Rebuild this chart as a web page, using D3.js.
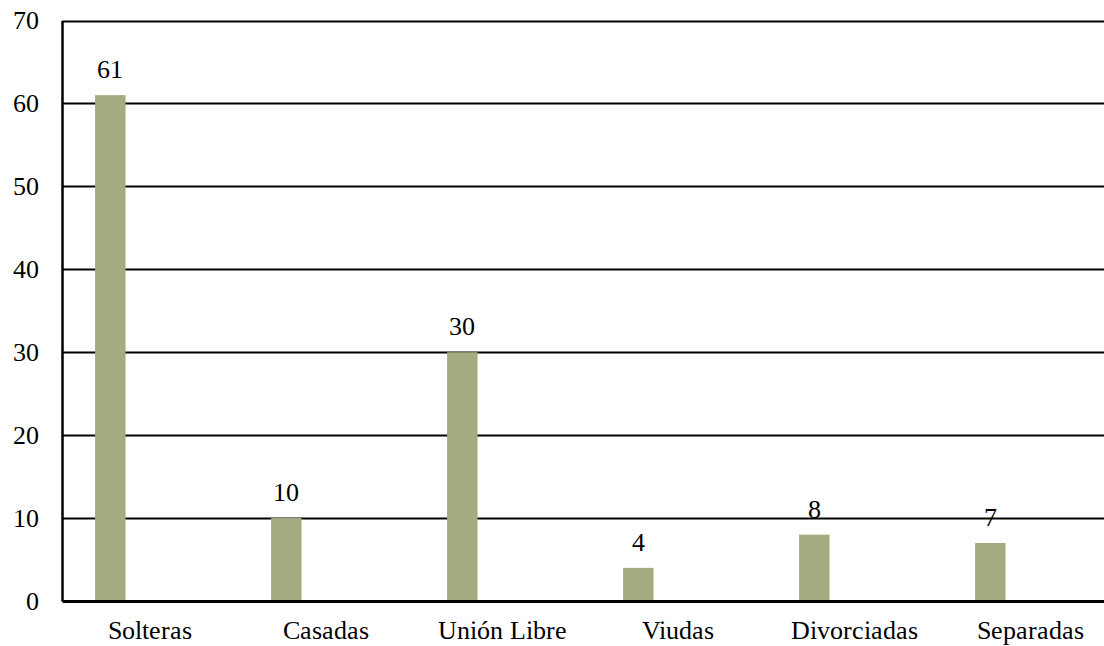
<!DOCTYPE html>
<html>
<head>
<meta charset="utf-8">
<script src="https://cdn.jsdelivr.net/npm/d3@7"></script>
<style>
  @font-face { font-family: "ChartSerif"; src: local("Liberation Serif"), local("LiberationSerif"), local("LiberationSerif-Regular"), local("DejaVu Serif"), local("DejaVuSerif"), local("Times New Roman"), local("Noto Serif"), local("FreeSerif"); }
  html, body { margin: 0; padding: 0; background: #ffffff; }
  svg { display: block; }
  svg text { font-family: "ChartSerif", "Liberation Serif", "Noto Serif", "FreeSerif", Georgia, "Times New Roman", serif !important; fill: #000; }
</style>
</head>
<body>
<div id="chart"></div>
<script>
// Estado civil de las participantes
const categories = ["Solteras", "Casadas", "Unión Libre", "Viudas", "Divorciadas", "Separadas"];
const values = [61, 10, 30, 4, 8, 7];
const yTicks = [0, 10, 20, 30, 40, 50, 60, 70];

const width = 1104, height = 646;
const plot = { left: 62, right: 1118, top: 20.5, bottom: 601 };
const fontSize = 26;

const svg = d3.select("#chart").append("svg")
  .attr("width", width)
  .attr("height", height);

const x = d3.scaleBand()
  .domain(categories)
  .range([plot.left, plot.right])
  .padding(0);

const y = d3.scaleLinear()
  .domain([0, 70])
  .range([plot.bottom, plot.top]);

// each bar sits toward the left side of its category slot
const barOffset = x.bandwidth() * 0.188;
const barWidth = x.bandwidth() * 0.173;

// horizontal gridlines (run past the right edge)
svg.append("g")
  .selectAll("line")
  .data(yTicks.filter(d => d > 0))
  .join("line")
  .attr("x1", plot.left)
  .attr("x2", width)
  .attr("y1", d => Math.round(y(d)) + 0.5)
  .attr("y2", d => Math.round(y(d)) + 0.5)
  .attr("stroke", "#000")
  .attr("stroke-width", 2);

// bars
svg.append("g")
  .selectAll("rect")
  .data(values)
  .join("rect")
  .attr("x", (d, i) => x(categories[i]) + barOffset)
  .attr("y", d => y(d))
  .attr("width", barWidth)
  .attr("height", d => y(0) - y(d))
  .attr("fill", "#a5ac80");

// value labels
svg.append("g")
  .selectAll("text")
  .data(values)
  .join("text")
  .attr("x", (d, i) => x(categories[i]) + barOffset + barWidth / 2)
  .attr("y", d => y(d) - 17)
  .attr("text-anchor", "middle")
  .style("font-size", fontSize + "px")
  .text(d => d);

// y axis
const yAxis = svg.append("g")
  .attr("transform", `translate(${plot.left},0)`)
  .call(d3.axisLeft(y).tickValues(yTicks).tickSize(0).tickPadding(23))
  .attr("font-family", null);
yAxis.select(".domain").attr("stroke", "#000").attr("stroke-width", 2.5);
yAxis.selectAll("text")
  .style("font-size", fontSize + "px")
  .attr("fill", "#000");

// x axis
const xAxis = svg.append("g")
  .attr("transform", `translate(0,${plot.bottom})`)
  .call(d3.axisBottom(x).tickSize(0).tickPadding(20))
  .attr("font-family", null);
xAxis.select(".domain").attr("stroke", "#000").attr("stroke-width", 3);
xAxis.selectAll("text")
  .style("font-size", fontSize + "px")
  .attr("fill", "#000");
</script>
</body>
</html>
